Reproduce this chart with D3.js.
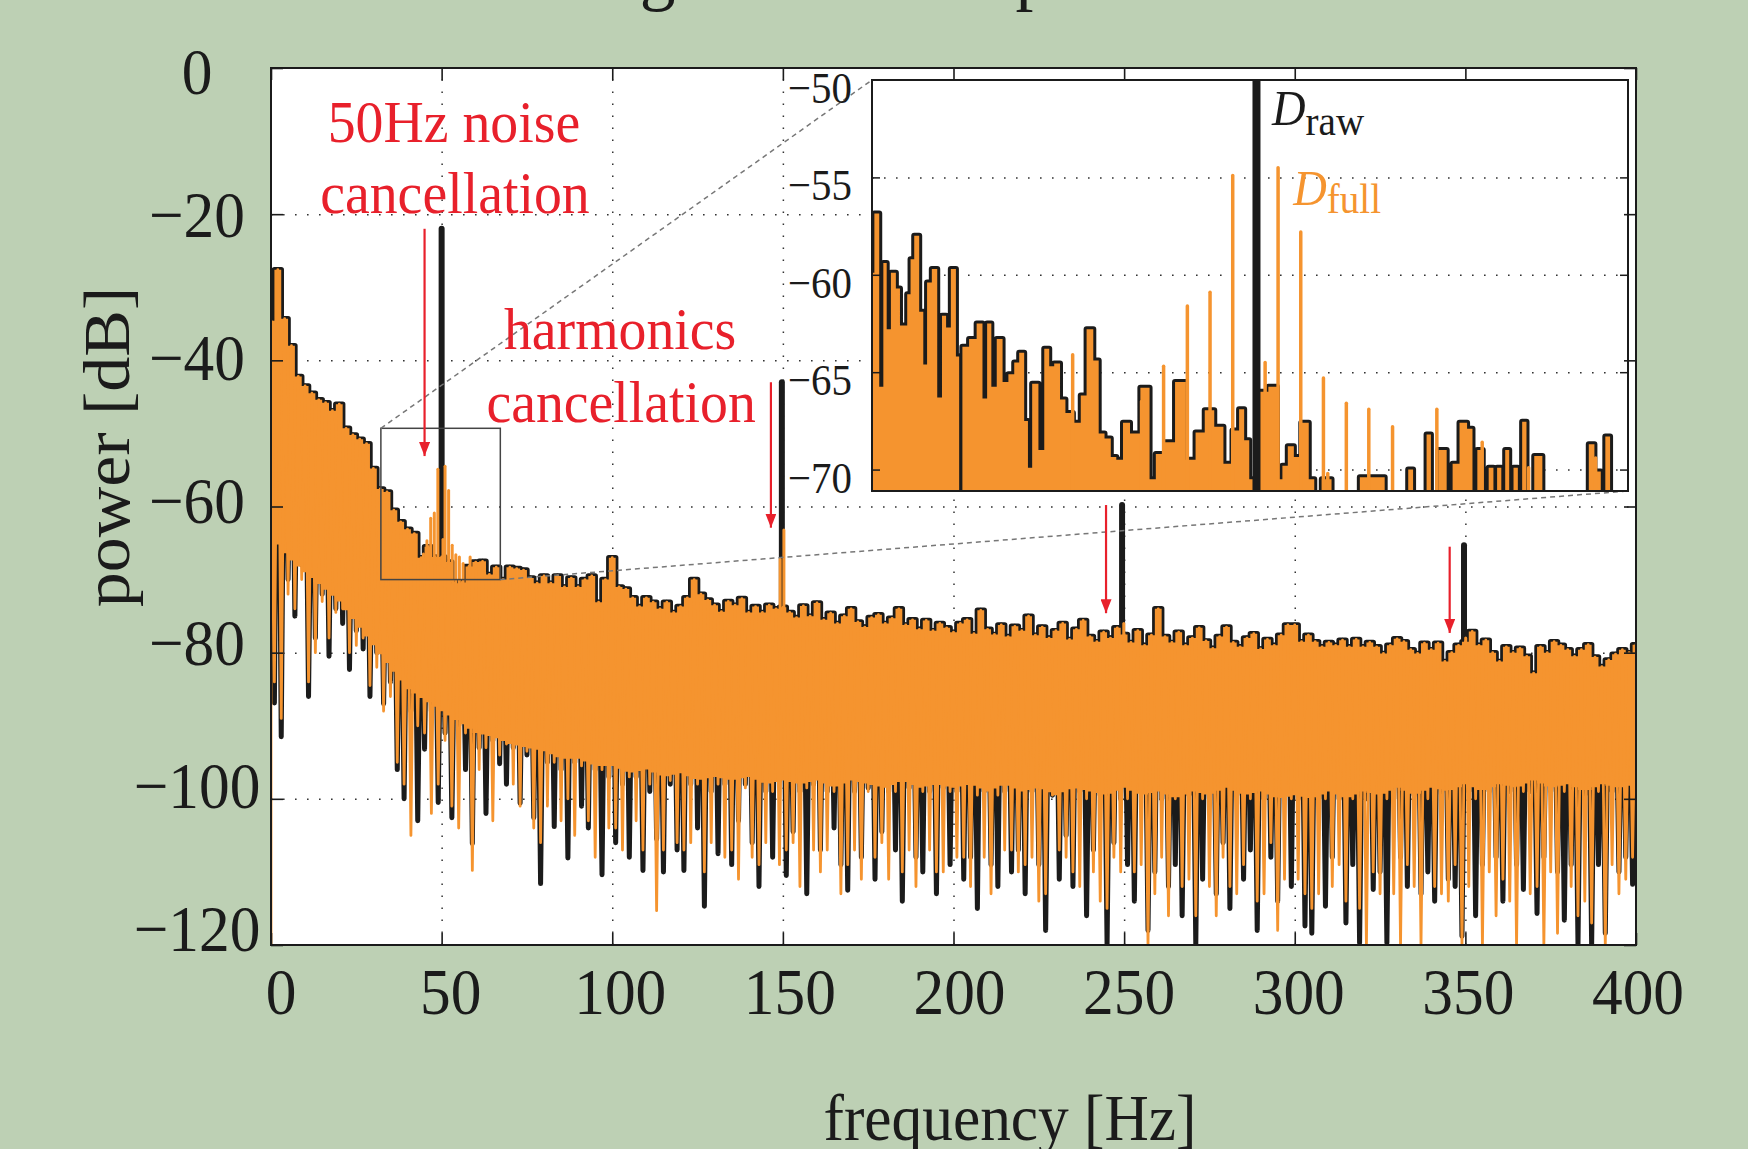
<!DOCTYPE html>
<html>
<head>
<meta charset="utf-8">
<title>power spectrum</title>
<script src="https://cdn.jsdelivr.net/npm/d3@7"></script>
<style>
  body { margin: 0; background: #bdd0b4; }
  svg { display: block; }
  text { font-family: "Liberation Serif", "Times New Roman", serif; }
</style>
</head>
<body>
<svg id="chart" width="1748" height="1149"></svg>
<script>
// ---- values ----
const xTicks = [0, 50, 100, 150, 200, 250, 300, 350, 400];
const yTicks = [0, -20, -40, -60, -80, -100, -120];
const insetTicks = [-50, -55, -60, -65, -70];

// upper edge of the spectrum, every 2 Hz
const topFreq = d3.range(0, 401, 2);
const topRaw = [
  -34.6, -27.6, -34.3, -38, -42.2, -43.5, -44.5, -45.4, -45.8, -46.9,
  -46, -49.3, -50.2, -50.8, -51.4, -54.8, -57.6, -58, -60.5, -62.1,
  -63.1, -63.7, -67, -65.5, -66.9, -66.9, -67.6, -70.5, -70.4, -68.2,
  -67.6, -67.5, -69.3, -68.3, -70, -68.3, -68.5, -68.7, -69.8, -70.5,
  -69.5, -70.5, -69.5, -71, -69.8, -71, -70, -69.5, -73.1, -70,
  -67, -71, -71.3, -72.5, -73.7, -72.5, -73.1, -74, -73.1, -74.5,
  -73.7, -72.5, -70, -72, -72.8, -73.5, -74.4, -73, -73.5, -72.6,
  -74.5, -73.7, -74.5, -73.5, -74, -73.8, -74.5, -75.2, -73.6, -75,
  -73.2, -75.5, -74.6, -76, -75, -74, -75.8, -76.5, -75.2, -74.8,
  -76, -75.3, -74, -76.2, -75.5, -76.8, -75.6, -77, -76, -76.6,
  -77.2, -76, -75.5, -77.4, -74.2, -76.8, -77.5, -76.2, -77.8, -76.4,
  -77, -75, -77.6, -76.5, -78, -77, -76, -78.2, -76.8, -75.6,
  -77.8, -78.5, -77.2, -78, -76.6, -77.5, -78.6, -77, -79, -77.6,
  -74, -77.8, -78.6, -77.2, -79, -78, -76.6, -78.4, -79.4, -77.8,
  -76.5, -78.6, -79.2, -78, -77.4, -79.5, -78.2, -79, -77.6, -76.2,
  -76.2, -78.5, -77.6, -78.5, -79.2, -78.6, -79, -78.3, -79.2, -78.2,
  -79.2, -78.6, -79.2, -80.1, -79, -78.1, -78.5, -79.6, -80.1, -78.7,
  -79.6, -78.7, -81.2, -80, -79, -78.5, -77.1, -79, -78.3, -80,
  -81.2, -79.2, -80, -79.4, -80.5, -82.8, -79.2, -80, -78.5, -79,
  -79.6, -80.5, -79.6, -78.9, -80.6, -81.9, -81, -80.2, -79.6, -80,
  -78.9
];

// bottom of each dip, at the odd frequencies
const dipFreq = d3.range(1, 400, 2);
const dipRaw = [
  -86.9, -91.5, -70, -75, -68, -86, -78, -72, -80.5, -74,
  -76, -82.3, -77, -79.5, -86, -80, -87, -84, -96, -100,
  -88, -103, -93.2, -88, -100.5, -91, -102.6, -90, -96, -106.1,
  -93, -102, -92, -95.2, -98, -93, -100.6, -94, -102.6, -111.6,
  -95, -103.8, -96, -108.1, -95, -101, -104, -96, -110.4, -97,
  -106, -98, -108, -97, -109.8, -99, -105.5, -110, -98, -107,
  -109.8, -98, -104, -114.7, -99, -107.5, -98, -109, -103, -98,
  -106, -112, -99, -108, -97.5, -110.5, -104.5, -99, -113, -98,
  -107, -99, -104, -109, -112.5, -99, -108, -98.5, -111, -104.5,
  -99, -107, -114, -98.5, -108, -110, -99, -113, -98.5, -109,
  -99, -111, -108, -115, -99, -109, -112, -99, -110, -107,
  -113, -99, -109, -118, -99.5, -111, -105, -112, -99, -116,
  -107, -99.5, -120, -106, -100, -109, -114, -99, -118, -110,
  -100, -112, -109, -116, -99.5, -120, -111, -100, -113, -106,
  -115, -99.5, -111, -107, -118, -100, -108, -114, -99.5, -112,
  -100, -117.4, -118.4, -100, -114.7, -108, -100, -117, -109, -119.7,
  -100, -112.4, -110, -119.7, -100, -108, -112, -99.5, -113, -110,
  -114, -99.5, -111, -112, -118.8, -99, -116, -109, -99, -108,
  -114, -99, -109, -112.4, -99, -115.7, -108, -99, -110, -116.6,
  -109, -120, -99.5, -120, -109, -118.4, -99, -110, -108, -111.7
];
const dipFull = [
  -84, -89, -72, -74, -70, -84, -80, -73, -78, -74.5,
  -74, -80, -79, -78, -84.5, -82, -88, -86, -95, -98,
  -105, -90, -91, -102, -98, -92, -101, -104, -91, -109.8,
  -96, -93, -103, -94, -92.5, -98, -101, -93.5, -104, -106,
  -101, -95, -103, -100, -105, -95.5, -103, -108, -96, -104,
  -104, -107, -97, -103, -107, -98, -115.3, -107, -97.5, -106,
  -107, -106, -98, -110, -106, -98, -108, -107, -111, -98.5,
  -108, -109, -106, -99, -109, -107, -106, -112, -98.5, -107,
  -110, -107, -99, -113, -109, -107, -111, -99, -108, -106,
  -111, -99, -110, -107, -112, -99, -107, -110, -110, -99,
  -108, -108, -112, -99.5, -108, -113, -99.5, -107, -107, -110,
  -109, -108, -114, -113, -99.5, -107, -108, -110, -112, -100,
  -110, -114, -115, -108, -110, -100, -110, -109, -120, -113,
  -108, -116, -100, -112, -111, -116, -100, -112, -116, -108,
  -112, -113, -109, -100, -114, -113, -106, -118, -111, -100,
  -111, -113, -115, -113, -100, -112, -109, -114, -100, -115,
  -120, -110, -113, -100, -113, -120, -109, -112, -120, -100,
  -112, -113, -114, -109, -120, -112, -100, -120, -110, -116,
  -111, -114, -120, -99, -113, -112, -120, -110, -118.4, -99,
  -112, -116, -114, -117, -99, -120, -109, -113, -111, -108
];
const fullStartDb = -120;

// lower edge of the solid band, every 5 Hz
const floorFreq = d3.range(0, 401, 5);
const floorDb = [
  -64, -67, -69, -71, -73, -76, -79, -82, -85, -86.5,
  -88, -89.5, -91, -91.5, -92.5, -93, -93.5, -94.5, -94.5, -95.5,
  -95.5, -96.5, -96, -97, -96.5, -97.5, -97, -97.5, -97, -98,
  -97.5, -98, -97.5, -98.5, -97.5, -98, -98.5, -97.5, -98.5, -98,
  -98.5, -98, -99, -98, -99, -98.5, -99.5, -98.5, -99, -99.5,
  -98.5, -99.5, -99, -100, -99, -99.5, -98.5, -99.5, -99, -100,
  -99.5, -100, -99, -100, -99, -99.5, -98.5, -99.5, -98.5, -99,
  -98, -99, -98, -98.5, -97.5, -98.5, -98, -99, -98, -98.5,
  -98
];

// 50 Hz line and harmonics in D_raw
const rawSpikeF = [50, 149.7, 249.4, 349.6];
const rawSpikeDb = [-22, -43, -59.8, -65.3];
// narrow peaks that stay in D_full
const fullSpikeF = [41.49, 44.68, 45.7, 46.8, 47.85, 48.9, 50.4, 51.0, 52.05, 53.1, 53.3,
  54.16, 55.2, 56.3, 58.35, 60.45, 62.6, 65.7, 149.2, 150.3, 249.9, 350.1];
const fullSpikeDb = [-64.1, -66.5, -64.7, -61.6, -60.9, -54.9, -64.5, -54.5, -57.8, -65.3, -70.2,
  -66.6, -66.9, -67.8, -66.9, -68.6, -69.9, -69.4, -67.2, -63.2, -76, -78];

// fine trace shown in the zoom window
const insetF = [
  32.2, 32.42, 32.65, 32.8, 32.96, 33.19, 33.42, 33.57, 33.73, 33.93,
  34.04, 34.27, 34.5, 34.65, 34.85, 35.09, 35.35, 35.53, 35.73, 35.97,
  36.2, 36.27, 36.5, 36.89, 37.2, 37.43, 37.63, 37.82, 38.13, 38.36,
  38.67, 38.9, 39.13, 39.36, 39.48, 39.75, 40.06, 40.29, 40.52, 40.75,
  41.06, 41.25, 41.75, 41.98, 42.29, 42.6, 42.79, 43.14, 43.37, 43.65,
  43.99, 44.3, 44.95, 45.15, 45.53, 46.0, 46.46, 47.0, 47.36, 47.85,
  48.24, 48.7, 49.08, 49.31, 49.55, 49.78, 50.3, 50.8, 51.1, 51.3,
  51.6, 51.86, 52.29, 52.55, 52.8, 53.25, 53.7, 55.87, 56.0, 56.95,
  57.1, 57.4, 57.8, 57.95, 58.2, 58.65, 58.96, 59.2, 59.6, 59.9,
  60.1, 60.35, 60.6, 60.9, 61.04, 61.24, 61.43, 61.6, 61.8, 62.0,
  62.2, 62.4, 62.6, 63.12, 63.35, 65.3, 65.47, 65.82, 66.06, 66.24,
  66.5, 67.2
];
const insetDb = [
  -59.9, -56.85, -65.75, -59.4, -62.8, -59.9, -60.7, -62.6, -62.6, -61.0,
  -59.2, -58.0, -61.9, -64.6, -60.4, -59.7, -66.3, -62.1, -62.7, -59.7,
  -64.2, -71.1, -63.7, -63.3, -62.5, -66.35, -62.5, -65.75, -63.3, -65.5,
  -65.1, -64.5, -64.0, -67.5, -69.9, -65.6, -69.0, -63.8, -64.7, -64.55,
  -66.4, -67.1, -67.6, -66.2, -62.8, -64.4, -68.15, -68.4, -69.35, -69.5,
  -67.6, -68.15, -65.8, -70.5, -69.2, -68.6, -65.5, -69.5, -68.1, -66.95,
  -67.8, -69.7, -68.0, -66.9, -68.5, -70.5, -66.0, -65.75, -70.5, -69.8,
  -68.8, -69.35, -67.6, -70.5, -71.2, -70.5, -71.2, -70.4, -71.2, -71.2,
  -70.0, -71.2, -71.2, -68.2, -71.2, -69.0, -71.2, -69.7, -67.6, -67.9,
  -71.2, -69.0, -71.2, -69.9, -71.2, -69.9, -71.2, -69.0, -71.2, -69.9,
  -71.2, -67.55, -71.2, -69.3, -71.2, -71.2, -68.7, -70.1, -71.2, -68.3,
  -71.2, -71.2
];
const zoomF = [32.2, 67.2];
const zoomDb = [-49.3, -70];
const insetDomainDb = [-50, -71.1];

const arrowF = [45, 146.5, 244.7, 345.4];
const arrowTop = [-22, -43, -59.8, -65.5];
const arrowTip = [-53.1, -62.9, -74.6, -77.3];

const notes = [
  { text: "50Hz noise", f: 53.6, db: -10.1 },
  { text: "cancellation", f: 53.9, db: -19.8 },
  { text: "harmonics", f: 102.3, db: -38.4 },
  { text: "cancellation", f: 102.6, db: -48.4 }
];

// ---- layout ----
const W = 1748, H = 1149;
const M = { left: 271, right: 1636, top: 68, bottom: 945 };
const I = { left: 872, right: 1628, top: 80, bottom: 491 };
const orange = "#f5942f", black = "#1b1b1b", red = "#e8202b", bg = "#bdd0b4";
const dots = "1.6 10.4";

const x = d3.scaleLinear().domain([0, 400]).range([M.left, M.right]);
const y = d3.scaleLinear().domain([0, -120]).range([M.top, M.bottom]);
// tick labels in the figure sit slightly off their ticks
const xLab = d3.scaleLinear().domain([0, 400]).range([281, 1638]);
const yLab = d3.scaleLinear().domain([0, -120]).range([72, 929]);
const xi = d3.scaleLinear().domain(zoomF).range([I.left, I.right]);
const yi = d3.scaleLinear().domain(insetDomainDb).range([I.top, I.bottom]);
const topAt = d3.scaleLinear().domain(topFreq).range(topRaw);
const floorAt = d3.scaleLinear().domain(floorFreq).range(floorDb);
const fmt = d3.format("d");

function txt(g, s, px, py, size, fill, anchor) {
  return g.append("text")
    .attr("transform", "translate(" + px + "," + py + ") scale(0.93,1)")
    .attr("text-anchor", anchor || "middle")
    .attr("font-size", size)
    .attr("fill", fill || black)
    .text(s);
}

function zigzag(tops, dips) {
  const pts = [];
  tops.forEach((v, i) => {
    pts.push([topFreq[i], v]);
    if (i < dips.length) pts.push([dipFreq[i], dips[i]]);
  });
  return pts;
}

const svg = d3.select("#chart");
svg.append("rect").attr("width", W).attr("height", H).attr("fill", bg);

const defs = svg.append("defs");
defs.append("clipPath").attr("id", "clipMain").append("rect")
  .attr("x", M.left).attr("y", M.top)
  .attr("width", M.right - M.left).attr("height", M.bottom - M.top);
defs.append("clipPath").attr("id", "clipInset").append("rect")
  .attr("x", I.left).attr("y", I.top)
  .attr("width", I.right - I.left).attr("height", I.bottom - I.top);
defs.append("marker").attr("id", "arrowHead")
  .attr("viewBox", "0 0 14 11").attr("refX", 14).attr("refY", 5.5)
  .attr("markerWidth", 14).attr("markerHeight", 11)
  .attr("markerUnits", "userSpaceOnUse").attr("orient", "auto")
  .append("path").attr("d", "M0,0L14,5.5L0,11Z").attr("fill", red);

// title, only its lower part is inside the picture
txt(svg, "Signal and its spectrum", 580, -4, 77, black, "start");

// plot background and grid
svg.append("rect").attr("x", M.left).attr("y", M.top)
  .attr("width", M.right - M.left).attr("height", M.bottom - M.top).attr("fill", "#fff");

svg.append("g").attr("transform", "translate(0," + M.bottom + ")")
  .call(d3.axisBottom(x).tickValues(xTicks.slice(1, -1)).tickSize(M.top - M.bottom).tickFormat(""))
  .call(g => g.select(".domain").remove())
  .selectAll("line").attr("stroke", "#333").attr("stroke-width", 1.5).attr("stroke-dasharray", dots);
svg.append("g").attr("transform", "translate(" + M.left + ",0)")
  .call(d3.axisLeft(y).tickValues(yTicks.slice(1, -1)).tickSize(M.left - M.right).tickFormat(""))
  .call(g => g.select(".domain").remove())
  .selectAll("line").attr("stroke", "#333").attr("stroke-width", 1.5).attr("stroke-dasharray", dots);

// spectra
const plotG = svg.append("g").attr("clip-path", "url(#clipMain)");
const line = d3.line().x(d => x(d[0])).y(d => y(d[1]));
const stepLine = d3.line().curve(d3.curveStep).x((d, i) => x(topFreq[i])).y(d => y(d));
const band = d3.area().curve(d3.curveStep)
  .x((d, i) => x(topFreq[i]))
  .y1(d => y(d))
  .y0((d, i) => y(floorAt(topFreq[i])));

plotG.append("path").datum(topRaw).attr("d", stepLine)
  .attr("fill", "none").attr("stroke", black).attr("stroke-width", 5.5).attr("stroke-linejoin", "round");

plotG.selectAll(".rawSpike").data(rawSpikeF).join("line")
  .attr("x1", d => x(d)).attr("x2", d => x(d))
  .attr("y1", d => y(topAt(d) - 2)).attr("y2", (d, i) => y(rawSpikeDb[i]))
  .attr("stroke", black).attr("stroke-width", 6).attr("stroke-linecap", "round");

plotG.append("path").datum(zigzag(topRaw, dipRaw)).attr("d", line)
  .attr("fill", "none").attr("stroke", black).attr("stroke-width", 5)
  .attr("stroke-linejoin", "round").attr("stroke-linecap", "round");

plotG.append("path").datum(topRaw).attr("d", band).attr("fill", orange);

plotG.append("path").datum([[0, fullStartDb]].concat(zigzag(topRaw, dipFull))).attr("d", line)
  .attr("fill", "none").attr("stroke", orange).attr("stroke-width", 2.8)
  .attr("stroke-linejoin", "round").attr("stroke-linecap", "round");

plotG.selectAll(".fullSpike").data(fullSpikeF).join("line")
  .attr("x1", d => x(d)).attr("x2", d => x(d))
  .attr("y1", d => y(topAt(d) - 1)).attr("y2", (d, i) => y(fullSpikeDb[i]))
  .attr("stroke", orange).attr("stroke-width", 3).attr("stroke-linecap", "round");

// zoom box and its connectors
svg.append("rect")
  .attr("x", x(zoomF[0])).attr("y", y(zoomDb[0]))
  .attr("width", x(zoomF[1]) - x(zoomF[0])).attr("height", y(zoomDb[1]) - y(zoomDb[0]))
  .attr("fill", "none").attr("stroke", "#444").attr("stroke-width", 1.5);
svg.append("line")
  .attr("x1", x(zoomF[0])).attr("y1", y(zoomDb[0])).attr("x2", I.left).attr("y2", I.top)
  .attr("stroke", "#777").attr("stroke-width", 1.5).attr("stroke-dasharray", "5 4");
svg.append("line")
  .attr("x1", x(zoomF[1])).attr("y1", y(zoomDb[1])).attr("x2", I.right).attr("y2", I.bottom)
  .attr("stroke", "#777").attr("stroke-width", 1.5).attr("stroke-dasharray", "5 4");

// red arrows and notes
svg.selectAll(".arrow").data(arrowF).join("line")
  .attr("x1", d => x(d)).attr("x2", d => x(d))
  .attr("y1", (d, i) => y(arrowTop[i])).attr("y2", (d, i) => y(arrowTip[i]))
  .attr("stroke", red).attr("stroke-width", 2.2).attr("marker-end", "url(#arrowHead)");
notes.forEach(n => txt(svg, n.text, x(n.f), y(n.db), 60, red));

// ---- inset ----
svg.append("rect").attr("x", I.left).attr("y", I.top)
  .attr("width", I.right - I.left).attr("height", I.bottom - I.top).attr("fill", "#fff");
svg.append("g").attr("transform", "translate(" + I.left + ",0)")
  .call(d3.axisLeft(yi).tickValues(insetTicks.slice(1)).tickSize(I.left - I.right).tickFormat(""))
  .call(g => g.select(".domain").remove())
  .selectAll("line").attr("stroke", "#333").attr("stroke-width", 1.5).attr("stroke-dasharray", dots);

const insetG = svg.append("g").attr("clip-path", "url(#clipInset)");
const insetPts = insetF.map((f, i) => [f, insetDb[i]]);
const iline = d3.line().curve(d3.curveStep).x(d => xi(d[0])).y(d => yi(d[1]));
const iarea = d3.area().curve(d3.curveStep).x(d => xi(d[0])).y1(d => yi(d[1])).y0(I.bottom + 6);

insetG.append("path").datum(insetPts).attr("d", iline)
  .attr("fill", "none").attr("stroke", black).attr("stroke-width", 6).attr("stroke-linejoin", "round");
insetG.append("path").datum(insetPts).attr("d", iarea).attr("fill", orange);
insetG.selectAll(".fullSpike").data(fullSpikeF).join("line")
  .attr("x1", d => xi(d)).attr("x2", d => xi(d))
  .attr("y1", I.bottom + 4).attr("y2", (d, i) => yi(fullSpikeDb[i]))
  .attr("stroke", orange).attr("stroke-width", 3.5).attr("stroke-linecap", "round");
insetG.selectAll(".rawSpike").data(rawSpikeF).join("line")
  .attr("x1", d => xi(d)).attr("x2", d => xi(d))
  .attr("y1", I.bottom + 4).attr("y2", (d, i) => yi(rawSpikeDb[i]))
  .attr("stroke", black).attr("stroke-width", 8);

svg.append("rect").attr("x", I.left).attr("y", I.top)
  .attr("width", I.right - I.left).attr("height", I.bottom - I.top)
  .attr("fill", "none").attr("stroke", black).attr("stroke-width", 2);
svg.append("g").attr("transform", "translate(" + I.left + ",0)")
  .call(d3.axisLeft(yi).tickValues(insetTicks.slice(1)).tickSize(-8).tickFormat(""))
  .call(g => g.select(".domain").remove())
  .selectAll("line").attr("stroke", black).attr("stroke-width", 1.5);
svg.append("g").attr("transform", "translate(" + I.right + ",0)")
  .call(d3.axisRight(yi).tickValues(insetTicks.slice(1)).tickSize(-8).tickFormat(""))
  .call(g => g.select(".domain").remove())
  .selectAll("line").attr("stroke", black).attr("stroke-width", 1.5);
insetTicks.forEach(v => txt(svg, fmt(v), 852, yi(v) + 23, 44, black, "end"));

// legend inside the inset
const legRaw = svg.append("text")
  .attr("transform", "translate(" + xi(50.72) + "," + yi(-52.31) + ") scale(0.93,1)")
  .attr("fill", black).attr("font-size", 50);
legRaw.append("tspan").attr("font-style", "italic").text("D");
legRaw.append("tspan").attr("font-size", 42).attr("dy", 10).text("raw");
const legFull = svg.append("text")
  .attr("transform", "translate(" + xi(51.7) + "," + yi(-56.42) + ") scale(0.93,1)")
  .attr("fill", orange).attr("font-size", 50);
legFull.append("tspan").attr("font-style", "italic").text("D");
legFull.append("tspan").attr("font-size", 42).attr("dy", 8).text("full");

// ---- main frame, ticks and labels ----
svg.append("rect").attr("x", M.left).attr("y", M.top)
  .attr("width", M.right - M.left).attr("height", M.bottom - M.top)
  .attr("fill", "none").attr("stroke", black).attr("stroke-width", 2);
[
  [d3.axisLeft(y).tickValues(yTicks), "translate(" + M.left + ",0)"],
  [d3.axisRight(y).tickValues(yTicks), "translate(" + M.right + ",0)"],
  [d3.axisTop(x).tickValues(xTicks), "translate(0," + M.top + ")"],
  [d3.axisBottom(x).tickValues(xTicks), "translate(0," + M.bottom + ")"]
].forEach(([ax, tr]) => {
  svg.append("g").attr("transform", tr)
    .call(ax.tickSize(-12).tickFormat(""))
    .call(g => g.select(".domain").remove())
    .selectAll("line").attr("stroke", black).attr("stroke-width", 1.6);
});

yTicks.forEach(v => txt(svg, d3.format("")(v).replace("-", "\u2212"), 197, yLab(v) + 22, 66));
xTicks.forEach(v => txt(svg, fmt(v), xLab(v), 1014, 66));

txt(svg, "frequency [Hz]", 1010, 1140, 66);
svg.append("text")
  .attr("transform", "translate(129,447) rotate(-90) scale(1,0.93)")
  .attr("text-anchor", "middle").attr("font-size", 70).attr("fill", black)
  .text("power [dB]");
</script>
</body>
</html>
